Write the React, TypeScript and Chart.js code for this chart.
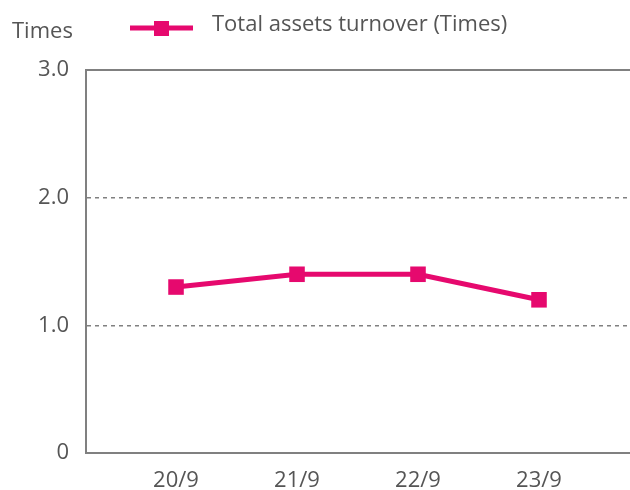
import React, { useEffect, useRef } from "react";
import { Chart, registerables } from "chart.js";

Chart.register(...registerables);

const categories = ["20/9", "21/9", "22/9", "23/9"];
const turnover = [1.3, 1.4, 1.4, 1.2];
const yTicks = [0, 1, 2, 3];
const seriesName = "Total assets turnover (Times)";
const yUnit = "Times";

const PINK = "#E6096E";
const GRAY = "#808080";
const TEXT = "#555555";
const FONT = "'Open Sans', sans-serif";

export default function App() {
  const ref = useRef<HTMLCanvasElement | null>(null);

  useEffect(() => {
    if (!ref.current) return;
    const legendPlugin = {
      id: "customLegend",
      afterDraw(chart: any) {
        const ctx = chart.ctx;
        ctx.save();
        ctx.fillStyle = TEXT;
        ctx.font = `22px ${FONT}`;
        ctx.textBaseline = "middle";
        ctx.textAlign = "left";
        ctx.fillText(yUnit, 12, 32);
        ctx.strokeStyle = PINK;
        ctx.lineWidth = 5;
        ctx.beginPath();
        ctx.moveTo(130, 28);
        ctx.lineTo(193, 28);
        ctx.stroke();
        ctx.fillStyle = PINK;
        ctx.fillRect(154, 21, 15, 15);
        ctx.fillStyle = TEXT;
        ctx.fillText(seriesName, 212, 25);
        ctx.restore();
      },
    };

    const chart = new Chart(ref.current, {
      type: "line",
      data: {
        datasets: [
          {
            label: seriesName,
            data: turnover.map((v, i) => ({ x: i, y: v })),
            borderColor: PINK,
            backgroundColor: PINK,
            borderWidth: 5,
            pointStyle: "rect",
            pointRadius: 11,
            pointHoverRadius: 11,
            pointBorderWidth: 0,
          },
        ],
      },
      options: {
        animation: false,
        responsive: false,
        maintainAspectRatio: false,
        layout: { autoPadding: false, padding: { top: 70, right: 0, left: 0, bottom: 0 } },
        plugins: { legend: { display: false }, tooltip: { enabled: false } },
        scales: {
          x: {
            type: "linear",
            min: -0.744,
            max: 3.752,
            afterBuildTicks(scale: any) {
              scale.ticks = categories.map((_, i) => ({ value: i }));
            },
            afterFit(scale: any) {
              scale.height = 37;
            },
            ticks: {
              callback: (v: any) => categories[v] ?? "",
              color: TEXT,
              font: { family: FONT, size: 22 },
              padding: 7,
              autoSkip: false,
              maxRotation: 0,
            },
            grid: { display: false },
            border: { display: true, color: GRAY, width: 2 },
          },
          x2: {
            type: "linear",
            position: "top",
            min: 0,
            max: 1,
            display: true,
            afterFit(scale: any) {
              scale.height = 0;
            },
            ticks: { display: false },
            grid: { display: false, drawTicks: false },
            border: { display: true, color: GRAY, width: 2 },
          },
          y: {
            min: 0,
            max: 3,
            afterBuildTicks(scale: any) {
              scale.ticks = yTicks.map((v) => ({ value: v }));
            },
            afterFit(scale: any) {
              scale.width = 86;
            },
            ticks: {
              callback: (v: any) => (v === 0 ? "0" : Number(v).toFixed(1)),
              color: TEXT,
              font: { family: FONT, size: 22 },
              padding: 17,
            },
            grid: {
              color: (c: any) =>
                c.tick && (c.tick.value === 0 || c.tick.value === 3) ? "rgba(0,0,0,0)" : GRAY,
              lineWidth: 1.5,
              drawTicks: false,
            },
            border: {
              display: true,
              color: GRAY,
              width: 2,
              dash: [4, 4],
            },
          },
        },
      },
      plugins: [legendPlugin],
    });
    return () => chart.destroy();
  }, []);

  return (
    <div style={{ position: "absolute", left: 0, top: 0, width: 630, height: 490 }}>
      <canvas ref={ref} width={630} height={490} style={{ display: "block" }} />
    </div>
  );
}
